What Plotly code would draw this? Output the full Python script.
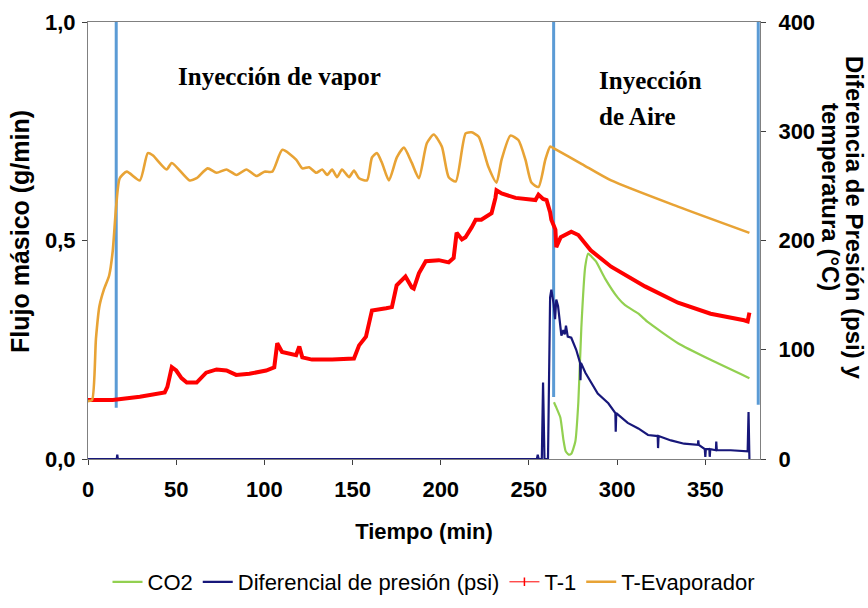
import plotly.graph_objects as go

# ---- data ----------------------------------------------------------------
# T-Evaporador (°C), right axis
t_evap = [0, 2.3, 4.5, 6.5, 9, 12, 14, 16, 18, 22, 29.4, 33.9, 36.7, 44.6, 47.5,
          57.6, 61.6, 67.8, 72.9, 78.5, 84.2, 89.8, 95.5, 100, 104.5, 110.2, 118,
          121.5, 125.4, 129.4, 132.8, 135.6, 138.4, 141.2, 144, 148, 150.8, 153.7,
          158.2, 161, 163.8, 166.7, 170.6, 175.1, 179.1, 183.6, 187.6, 192.1, 196,
          200.6, 204.5, 208.5, 214.1, 217.5, 221.5, 227.1, 231.6, 234.5, 239.5,
          244, 248, 251.4, 255.4, 259.3, 262.1, 264.4, 280, 296.6, 334.5, 375]
v_evap = [53, 54, 110, 140, 155, 168, 190, 232, 257, 263, 255, 280, 278, 265, 271,
          255, 257, 266, 262, 265, 260, 265, 259, 263, 263, 283, 274,
          266, 267, 262, 265, 260, 265, 258, 265, 258, 264, 257,
          255, 276, 280, 271, 255, 276, 285, 271, 257, 289, 297,
          286, 258, 254, 298, 299, 295, 267, 253, 274, 296,
          292, 274, 253, 249, 274, 286, 284, 270, 255, 231, 207]

# T-1 (°C), right axis
t_t1 = [0, 14, 29.4, 43.5, 45, 47.5, 50, 53, 56, 61.6, 67, 72.9, 78.5, 84, 91.5,
        101, 105.6, 107.3, 110, 118, 119.8, 121.5, 127, 138.4, 150.8, 153.7, 157.6,
        159.3, 161, 169, 172.3, 175, 178, 180, 183.6, 184.7, 187.6, 191.5, 198.9,
        204.5, 207.3, 209, 212, 214, 217.5, 219.8, 223, 228.8, 231, 231.6, 234.5,
        242.4, 253.7, 255.4, 258, 260, 262, 262.7, 265, 265.5, 268, 274, 278, 285,
        296.6, 315.8, 334.5, 353, 372, 374, 375]
v_t1 = [54, 54, 57, 61, 66, 84, 81, 74, 70, 70, 79, 82, 81, 77, 78,
        81, 84, 106, 98, 95, 103, 93, 91, 91, 92, 104, 112,
        123, 136, 138, 139, 159, 164, 167, 157, 156, 170, 181, 182,
        180, 184, 207, 201, 203, 212, 219, 219, 225, 239, 246, 243,
        239, 237, 242, 238, 237, 226, 219, 210, 194, 203, 208, 205, 191,
        176, 158, 143, 133, 127, 126, 134]

# Diferencial de presión (psi), right axis
t_dp = [0, 16.3, 16.6, 16.9, 254.5, 255, 255.5, 257.3, 258, 258.8, 260.8, 262,
        262.7, 264, 264.8, 265.5, 266.5, 267.8, 268.4, 269.5, 270.3, 271, 272, 274,
        276.8, 279, 279.2, 279.5, 282, 289, 295, 299, 299.2, 299.5, 306, 312,
        317.5, 323, 323.2, 323.5, 330.5, 338, 345.8, 346, 346.3, 349.7, 350, 350.3,
        352.3, 352.5, 352.8, 356, 356.2, 356.5, 364.4, 374, 374.5, 375]
v_dp = [0, 0, 4, 0, 0, 4, 0, 0, 70, 0, 0, 148,
        155, 142, 128, 146, 140, 124, 113, 118, 114, 122, 112, 111,
        100, 88, 72, 88, 79, 60, 51, 42, 25, 42, 33, 28,
        22, 21, 10, 21, 17, 14, 13, 17, 13, 9, 2, 9,
        9, 2, 9, 8, 16, 8, 8, 7, 43, 0]

# CO2 (g/min), left axis
t_co2 = [264.2, 265.5, 267.8, 269.5, 270.8, 272.5, 274, 276.3, 278, 279.7, 281.9,
         283.6, 285.5, 288, 293, 300.6, 304.5, 311.9, 317.5, 334.5, 353, 375]
f_co2 = [0.13, 0.118, 0.095, 0.045, 0.018, 0.01, 0.012, 0.04, 0.13, 0.3, 0.44,
         0.47, 0.463, 0.452, 0.414, 0.368, 0.352, 0.333, 0.313, 0.265, 0.227, 0.185]

# phase boundaries (min) and lower end of each boundary line (left-axis units)
phase_t = [16, 264, 380]
phase_bottom = [0.117, 0.142, 0.124]

x_ticks = [0, 50, 100, 150, 200, 250, 300, 350]

# ---- figure --------------------------------------------------------------
W, H = 868, 608
L, R, T, B = 88, 108, 22, 149
PW, PH = W - L - R, H - T - B


def px(xp):
    return (xp - L) / PW


def py(yp):
    return (H - B - yp) / PH


SANS = "Liberation Sans, Arial, sans-serif"
SERIF = "Liberation Serif, Times New Roman, serif"

fig = go.Figure()

for tx, yb in zip(phase_t, phase_bottom):
    fig.add_trace(go.Scatter(x=[tx, tx], y=[yb, 1.0], mode="lines",
                             line=dict(color="#5B9BD5", width=3),
                             showlegend=False, hoverinfo="skip", yaxis="y"))

fig.add_trace(go.Scatter(x=t_co2, y=f_co2, mode="lines", name="CO2",
                         line=dict(color="#92D050", width=2.2, shape="spline", smoothing=0.5),
                         yaxis="y"))

fig.add_trace(go.Scatter(x=t_dp, y=v_dp, mode="lines", name="Diferencial de presión (psi)",
                         line=dict(color="#17177A", width=2.2), yaxis="y2"))

fig.add_trace(go.Scatter(x=t_t1, y=v_t1, mode="lines", name="T-1", legendgroup="t1",
                         line=dict(color="#FF0000", width=4), showlegend=False, yaxis="y2"))
fig.add_trace(go.Scatter(x=[None], y=[None], mode="lines+markers", name="T-1",
                         legendgroup="t1",
                         line=dict(color="#FF0000", width=1),
                         marker=dict(symbol="line-ns-open", size=6,
                                     line=dict(color="#8B0000", width=1.5)),
                         yaxis="y2"))

fig.add_trace(go.Scatter(x=t_evap, y=v_evap, mode="lines", name="T-Evaporador",
                         line=dict(color="#E8A335", width=2.6, shape="spline", smoothing=0.6),
                         yaxis="y2"))

axis_common = dict(showgrid=False, zeroline=False, showline=True, linecolor="#808080",
                   linewidth=1, ticks="outside", ticklen=5, tickcolor="#404040",
                   tickfont=dict(family=SANS, size=22, color="#000000", weight="bold"))

fig.update_layout(
    width=W, height=H,
    margin=dict(l=L, r=R, t=T, b=B, autoexpand=False),
    paper_bgcolor="white", plot_bgcolor="white",
    separators=",.",
    xaxis=dict(range=[0, 381], tickvals=x_ticks, mirror=True, ticklabelstandoff=6,
               title=dict(text="Tiempo (min)", standoff=22,
                          font=dict(family=SANS, size=22, color="#000000", weight="bold")),
               **axis_common),
    yaxis=dict(range=[0, 1], tickvals=[0, 0.5, 1], tickformat=".1f", ticklabelstandoff=2,
               **axis_common),
    yaxis2=dict(range=[0, 400], tickvals=[0, 100, 200, 300, 400], overlaying="y",
                side="right", ticklabelstandoff=8, **axis_common),
    legend=dict(orientation="h", xref="container", yref="container",
                x=0.5, xanchor="center", y=1 - 582 / H, yanchor="middle",
                itemwidth=30, font=dict(family=SANS, size=22, color="#000000"),
                bgcolor="rgba(0,0,0,0)"),
    annotations=[
        dict(text="Flujo másico (g/min)", xref="paper", yref="paper",
             x=px(20), y=py(232), showarrow=False, textangle=-90,
             xanchor="center", yanchor="middle",
             font=dict(family=SANS, size=25, color="#000000", weight="bold")),
        dict(text="Inyección de vapor", xref="paper", yref="paper",
             x=px(279), y=py(76), showarrow=False, xanchor="center", yanchor="middle",
             font=dict(family=SERIF, size=25, color="#000000", weight="bold")),
        dict(text="Inyección", xref="paper", yref="paper",
             x=px(597), y=py(80), showarrow=False, xanchor="left", yanchor="middle",
             font=dict(family=SERIF, size=25, color="#000000", weight="bold")),
        dict(text="de Aire", xref="paper", yref="paper",
             x=px(597), y=py(117), showarrow=False, xanchor="left", yanchor="middle",
             font=dict(family=SERIF, size=25, color="#000000", weight="bold")),
        dict(text="Diferencia de Presión (psi) y", xref="paper", yref="paper",
             x=px(855), y=py(217), showarrow=False, textangle=90,
             xanchor="center", yanchor="middle",
             font=dict(family=SANS, size=24, color="#000000", weight="bold")),
        dict(text="temperatura (°C)", xref="paper", yref="paper",
             x=px(831), y=py(197), showarrow=False, textangle=90,
             xanchor="center", yanchor="middle",
             font=dict(family=SANS, size=24, color="#000000", weight="bold")),
    ],
)

fig.write_html("out.html")
